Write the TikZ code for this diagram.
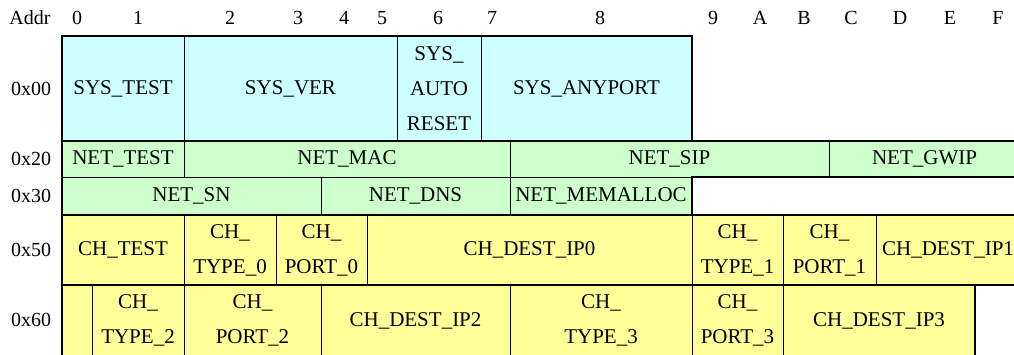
\documentclass[tikz,border=0pt]{standalone}
\usepackage{fontspec}
\setmainfont{Liberation Serif}
\definecolor{syscol}{HTML}{CCFFFF}
\definecolor{netcol}{HTML}{CCFFCC}
\definecolor{chcol}{HTML}{FFFF99}
\newcommand\mkcell[7]{%
  \node[cellbox,#6,minimum width={#4-#2},minimum height={#5-#3}] (#1) at ({(#2+#4)/2},{(#3+#5)/2}) {#7};}
\begin{document}
\begin{tikzpicture}[x=1pt,y=-1pt,
  cellbox/.style={draw=black,line width=1pt,inner sep=0pt,outer sep=0pt,align=center,
    font=\fontsize{21}{35}\selectfont},
  sys/.style={fill=syscol},
  net/.style={fill=netcol},
  chn/.style={fill=chcol},
  lbl/.style={inner sep=0pt,font=\fontsize{20}{24}\selectfont},
  blockline/.style={draw=black,line width=2pt}]
\useasboundingbox (0,0) rectangle (1014,354);
\fill[white] (0,0) rectangle (1014,354);
% header
\node[lbl] (haddr) at (30,18) {Addr};
\node[lbl] (h0) at (77,18) {0};
\node[lbl] (h1) at (138,18) {1};
\node[lbl] (h2) at (230,18) {2};
\node[lbl] (h3) at (298,18) {3};
\node[lbl] (h4) at (344,18) {4};
\node[lbl] (h5) at (382,18) {5};
\node[lbl] (h6) at (438,18) {6};
\node[lbl] (h7) at (492,18) {7};
\node[lbl] (h8) at (600,18) {8};
\node[lbl] (h9) at (713,18) {9};
\node[lbl] (hA) at (760,18) {A};
\node[lbl] (hB) at (804,18) {B};
\node[lbl] (hC) at (851,18) {C};
\node[lbl] (hD) at (900,18) {D};
\node[lbl] (hE) at (950,18) {E};
\node[lbl] (hF) at (998,18) {F};
% row labels
\node[lbl] (r00) at (31,89) {0x00};
\node[lbl] (r20) at (31,159) {0x20};
\node[lbl] (r30) at (31,196) {0x30};
\node[lbl] (r50) at (31,250) {0x50};
\node[lbl] (r60) at (31,320) {0x60};
% row 0x00
\mkcell{systest}{62}{36}{184}{141}{sys}{SYS\_TEST}
\mkcell{sysver}{184}{36}{397}{141}{sys}{SYS\_VER}
\mkcell{sysauto}{397}{36}{481}{141}{sys}{SYS\_\\AUTO\\RESET}
\mkcell{sysany}{481}{36}{692}{141}{sys}{SYS\_ANYPORT}
% row 0x20
\mkcell{nettest}{62}{141}{184}{177}{net}{NET\_TEST}
\mkcell{netmac}{184}{141}{510}{177}{net}{NET\_MAC}
\mkcell{netsip}{510}{141}{829}{177}{net}{NET\_SIP}
\mkcell{netgwip}{829}{141}{1020}{177}{net}{NET\_GWIP}
% row 0x30
\mkcell{netsn}{62}{177}{321}{215}{net}{NET\_SN}
\mkcell{netdns}{321}{177}{510}{215}{net}{NET\_DNS}
\mkcell{netmem}{510}{177}{692}{215}{net}{NET\_MEMALLOC}
% row 0x50
\mkcell{chtest}{62}{215}{184}{285}{chn}{CH\_TEST}
\mkcell{chtypea}{184}{215}{276}{285}{chn}{CH\_\\TYPE\_0}
\mkcell{chporta}{276}{215}{367}{285}{chn}{CH\_\\PORT\_0}
\mkcell{chipa}{367}{215}{692}{285}{chn}{CH\_DEST\_IP0}
\mkcell{chtypeb}{692}{215}{783}{285}{chn}{CH\_\\TYPE\_1}
\mkcell{chportb}{783}{215}{876}{285}{chn}{CH\_\\PORT\_1}
\mkcell{chipb}{876}{215}{1020}{285}{chn}{CH\_DEST\_IP1}
% row 0x60
\mkcell{chblank}{62}{285}{92}{356}{chn}{}
\mkcell{chtypec}{92}{285}{184}{356}{chn}{CH\_\\TYPE\_2}
\mkcell{chportc}{184}{285}{321}{356}{chn}{CH\_\\PORT\_2}
\mkcell{chipc}{321}{285}{510}{356}{chn}{CH\_DEST\_IP2}
\mkcell{chtyped}{510}{285}{692}{356}{chn}{CH\_\\TYPE\_3}
\mkcell{chportd}{692}{285}{783}{356}{chn}{CH\_\\PORT\_3}
\mkcell{chipd}{783}{285}{975}{356}{chn}{CH\_DEST\_IP3}
% thick block outlines
\draw[blockline] (systest.north west) rectangle (sysany.south east);
\draw[blockline] (nettest.north west) -- (netgwip.north east) -- (netgwip.south east)
  -- (netmem.north east) -- (netmem.south east) -- (netsn.south west) -- cycle;
\draw[blockline] (chtest.north west) rectangle (chipb.south east);
\draw[blockline] (chblank.north west) rectangle (chipd.south east);
\end{tikzpicture}
\end{document}
